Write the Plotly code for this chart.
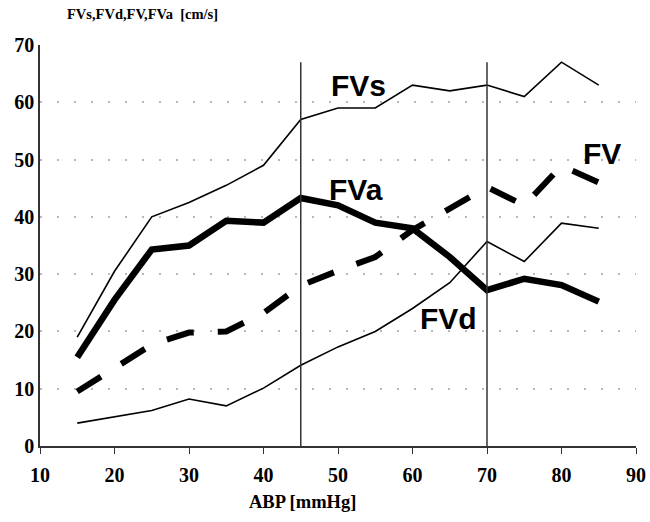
import plotly.graph_objects as go

# Arterial blood pressure steps (mmHg)
abp = [15, 20, 25, 30, 35, 40, 45, 50, 55, 60, 65, 70, 75, 80, 85]

# Flow velocities (cm/s)
fvs = [19, 30.5, 40, 42.5, 45.5, 49, 57, 59, 59, 63, 62, 63, 61, 67, 63]
fvd = [4, 5.1, 6.2, 8.2, 7, 10.1, 14.1, 17.3, 20, 24, 28.5, 35.7, 32.2, 38.9, 38]
fv = [9.5, 13.7, 17.7, 19.8, 20, 23.2, 28, 30.6, 33, 37.7, 41.5, 45.2, 42, 48.9, 46]
fva = [15.5, 25.5, 34.3, 35, 39.3, 39, 43.3, 42, 39, 38, 33, 27.2, 29.2, 28.1, 25.2]

# Reference pressures marked with vertical lines
markers_abp = [45, 70]
marker_top = 67

x_ticks = [10, 20, 30, 40, 50, 60, 70, 80, 90]
y_ticks = [0, 10, 20, 30, 40, 50, 60, 70]

serif = "Liberation Serif"
sans = "Liberation Sans"

fig = go.Figure()
fig.add_trace(go.Scatter(x=abp, y=fvs, mode="lines", line=dict(color="black", width=1.6)))
fig.add_trace(go.Scatter(x=abp, y=fvd, mode="lines", line=dict(color="black", width=1.6)))
fig.add_trace(go.Scatter(x=abp, y=fv, mode="lines",
                         line=dict(color="black", width=6, dash="28px,24px")))
fig.add_trace(go.Scatter(x=abp, y=fva, mode="lines", line=dict(color="black", width=6.5)))

for xv in markers_abp:
    fig.add_shape(type="line", x0=xv, x1=xv, y0=0, y1=marker_top,
                  line=dict(color="#333333", width=1.5), layer="above")

labels = [("FVs", 52.7, 63.0), ("FVa", 52.4, 44.7), ("FV", 85.4, 51.1), ("FVd", 64.8, 22.3)]
for txt, lx, ly in labels:
    fig.add_annotation(x=lx, y=ly, text=f"<b>{txt}</b>", showarrow=False,
                       font=dict(family=sans, size=30, color="black"))

# Axis titles
fig.add_annotation(xref="paper", yref="paper", x=0, xshift=25, y=1.0, yshift=31,
                   xanchor="left", yanchor="middle", showarrow=False,
                   text="<b>FVs,FVd,FV,FVa  [cm/s]</b>",
                   font=dict(family=serif, size=14.5, color="black"))
fig.add_annotation(xref="paper", yref="paper", x=0.441, y=0, yshift=-56,
                   xanchor="center", yanchor="middle", showarrow=False,
                   text="<b>ABP [mmHg]</b>",
                   font=dict(family=serif, size=18.5, color="black"))

fig.update_layout(
    width=650, height=522,
    margin=dict(l=40, r=14, t=45, b=76, autoexpand=False),
    paper_bgcolor="white", plot_bgcolor="white",
    showlegend=False,
    xaxis=dict(range=[10, 90], tickvals=x_ticks, showgrid=False, zeroline=False,
               automargin=False,
               showline=True, linecolor="#333333", linewidth=1.5,
               ticks="outside", ticklen=6, tickcolor="#333333",
               ticklabelstandoff=4,
               tickfont=dict(family=serif, size=20, color="black", weight="bold")),
    yaxis=dict(range=[0, 70], tickvals=y_ticks, zeroline=False, automargin=False,
               showgrid=True, gridcolor="#b8b8b8", gridwidth=1.5, griddash="2px,15px",
               showline=True, linecolor="#333333", linewidth=1.5,
               ticks="",
               tickfont=dict(family=serif, size=20, color="black", weight="bold")),
)

fig.write_html("out.html")
